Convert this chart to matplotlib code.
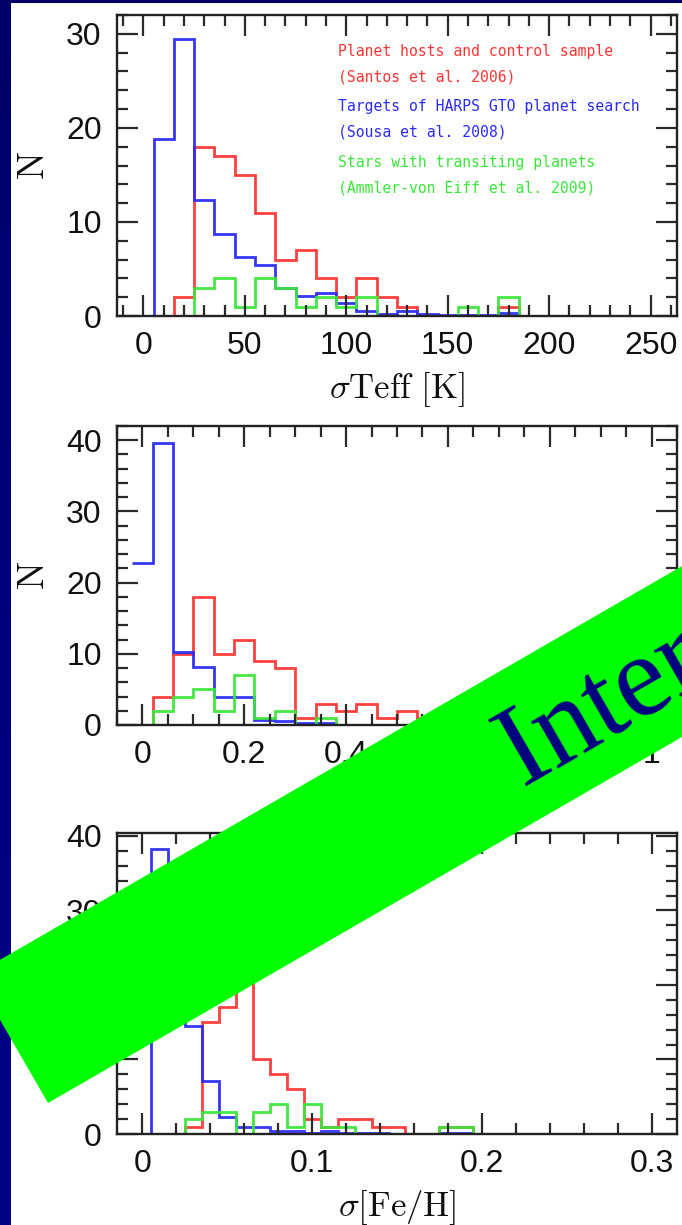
import numpy as np
import matplotlib
matplotlib.use("Agg")
import matplotlib.pyplot as plt
from matplotlib.patches import Polygon, Rectangle
from matplotlib.ticker import MultipleLocator, FixedLocator, FixedFormatter
from matplotlib.colors import LinearSegmentedColormap

plt.rcParams['mathtext.fontset'] = 'cm'

# ---------------- data ----------------
# panel 1: sigma Teff, bins of 10 K starting at -5
teff_start, teff_step = -5, 10
teff_red = [0, 0, 2, 18, 17, 15, 11, 6, 7, 4, 2, 4, 2, 1, 0, 0, 0, 0, 1, 0, 0, 0, 0, 0, 0, 0]
teff_blue = [0, 18.8, 29.5, 12.3, 8.7, 6.3, 5.4, 3.0, 2.1, 2.4, 1.4, 0.5, 0.2, 0.5, 0.2, 0.1, 0.1, 0.1, 0.3,
             0, 0, 0, 0, 0, 0, 0]
teff_green = [0, 0, 0, 3, 4, 1, 4, 3, 1, 2, 1, 2, 0, 0, 0, 0, 1, 0, 2, 0, 0, 0, 0, 0, 0, 0]

# panel 2: sigma logg, bins of 0.04 starting at -0.02
logg_start, logg_step = -0.02, 0.04
logg_red = [0, 4, 10, 18, 10, 12, 9, 8, 1, 3, 2, 3, 1, 2, 1, 0, 0, 0, 0, 0, 0, 0, 0, 0, 0, 0]
logg_blue = [22.7, 39.6, 10.3, 8.2, 3.9, 3.9, 0.7, 0.55, 0.35, 0.3, 0, 0, 0, 0, 0, 0, 0, 0, 0, 0, 0, 0, 0, 0, 0, 0]
logg_green = [0, 2, 4, 5, 2, 7, 1, 2, 0, 1, 0, 0, 0, 0, 0, 0, 0, 0, 0, 0, 0, 0, 0, 0, 0, 0]

# panel 3: sigma [Fe/H], bins of 0.01 starting at -0.005
feh_start, feh_step = -0.005, 0.01
feh_red = [0, 0, 0, 1, 15, 17, 27, 10, 8, 6, 2, 1, 2, 2, 1, 1, 0, 0, 1, 1,
           0, 0, 0, 0, 0, 0, 0, 0, 0, 0, 0]
feh_blue = [0, 38.2, 26, 14.5, 7.1, 2.3, 0.9, 0.9, 0.45, 0.45, 0.2, 0.45, 0.2, 0.1, 0.1, 0, 0, 0, 0.2, 0.2,
            0, 0, 0, 0, 0, 0, 0, 0, 0, 0, 0]
feh_green = [0, 0, 0, 2, 3, 3, 0, 3, 4, 1, 4, 1, 1, 0, 0, 0, 0, 0, 1, 1,
             0, 0, 0, 0, 0, 0, 0, 0, 0, 0, 0]

legend_lines = [
    ("Planet hosts and control sample", "red"),
    ("(Santos et al. 2006)", "red"),
    ("Targets of HARPS GTO planet search", "blue"),
    ("(Sousa et al. 2008)", "blue"),
    ("Stars with transiting planets", "green"),
    ("(Ammler-von Eiff et al. 2009)", "green"),
]

# ---------------- style ----------------
W, H = 682, 1225
COL = {"red": "#ff3535", "blue": "#2b2bf5", "green": "#3be63b"}
TICKFONT = "Liberation Sans"

fig = plt.figure(figsize=(W / 100, H / 100), dpi=100)

# background
bg = fig.add_axes([0, 0, 1, 1], zorder=0)
grad = np.linspace(0, 1, 256)[:, None]
cmap = LinearSegmentedColormap.from_list("bg", ["#000066", "#00007c", "#000086"])
bg.imshow(grad, cmap=cmap, extent=[0, W, H, 0], aspect="auto")
bg.add_patch(Rectangle((11, 3), W - 11, H - 3, facecolor="white", edgecolor="none"))
bg.set_xlim(0, W)
bg.set_ylim(H, 0)
bg.axis("off")


def px_rect(left, top, right, bottom):
    return [left / W, 1 - bottom / H, (right - left) / W, (bottom - top) / H]


panels = [
    dict(rect=px_rect(117, 15, 677, 316), start=teff_start, step=teff_step,
         series=[teff_red, teff_blue, teff_green], xlim=(-13, 263), ylim=(0, 32),
         xmaj=[0, 50, 100, 150, 200, 250], xlab=["0", "50", "100", "150", "200", "250"], xmin=10,
         xlabel=r"$\sigma\mathrm{Teff\ [K]}$"),
    dict(rect=px_rect(117, 426, 677, 725), start=logg_start, step=logg_step,
         series=[logg_red, logg_blue, logg_green], xlim=(-0.05, 1.05), ylim=(0, 42),
         xmaj=[0, 0.2, 0.4, 0.6, 0.8, 1.0], xlab=["0", "0.2", "0.4", "0.6", "0.8", "1"], xmin=0.05,
         xlabel=r"$\sigma\mathrm{logg}$"),
    dict(rect=px_rect(117, 833, 677, 1134), start=feh_start, step=feh_step,
         series=[feh_red, feh_blue, feh_green], xlim=(-0.015, 0.315), ylim=(0, 40.4),
         xmaj=[0, 0.1, 0.2, 0.3], xlab=["0", "0.1", "0.2", "0.3"], xmin=0.02,
         xlabel=r"$\sigma\mathrm{[Fe/H]}$"),
]

axes = []
for p in panels:
    ax = fig.add_axes(p["rect"], zorder=2)
    ax.set_facecolor("white")
    for vals, c in zip(p["series"], ["red", "blue", "green"]):
        edges = p["start"] + p["step"] * np.arange(len(vals) + 1)
        ax.stairs(vals, edges, baseline=None, color=COL[c], lw=2.0, alpha=0.95)
    ax.set_xlim(*p["xlim"])
    ax.set_ylim(*p["ylim"])
    ax.xaxis.set_major_locator(FixedLocator(p["xmaj"]))
    ax.xaxis.set_major_formatter(FixedFormatter(p["xlab"]))
    ax.xaxis.set_minor_locator(MultipleLocator(p["xmin"]))
    ax.yaxis.set_major_locator(MultipleLocator(10))
    ax.yaxis.set_minor_locator(MultipleLocator(2))
    ax.tick_params(which="both", direction="in", top=True, right=True, color="#2a2a2a", width=1.6)
    ax.tick_params(which="major", length=15, labelsize=23, pad=11)
    ax.tick_params(which="minor", length=8)
    for lab in ax.get_xticklabels() + ax.get_yticklabels():
        lab.set_fontfamily(TICKFONT)
        lab.set_color("#111111")
    for s in ax.spines.values():
        s.set_linewidth(1.7)
        s.set_color("#222222")
    ax.text(-0.148, 0.5, r"$\mathrm{N}$", transform=ax.transAxes, rotation=90,
            ha="center", va="center", fontsize=27, color="#111111")
    ax.text(0.5, -0.18, p["xlabel"], transform=ax.transAxes, ha="center", va="top",
            fontsize=25, color="#111111")
    axes.append(ax)

# legend-like annotations in the first panel
ax1 = axes[0]
ys = [51.7, 76.7, 107, 131.7, 163, 188]
for (txt, c), ypx in zip(legend_lines, ys):
    ax1.text((338 - 117) / 560, 1 - (ypx - 15) / 301, txt, transform=ax1.transAxes,
             ha="left", va="center", fontsize=10.6, family="DejaVu Sans Mono", color=COL[c])

# overlay banner
ov = fig.add_axes([0, 0, 1, 1], zorder=5)
ov.set_xlim(0, W)
ov.set_ylim(H, 0)
ov.axis("off")
ov.patch.set_alpha(0)
ang = np.deg2rad(30)
u = np.array([np.cos(ang), -np.sin(ang)])
n = np.array([-np.sin(ang), -np.cos(ang)])
A = np.array([48, 1103])
B = A + 148 * n
C = B + 1300 * u
D = A + 1300 * u
ov.add_patch(Polygon([A, B, C, D], closed=True, facecolor="#00ff00", edgecolor="none"))
ov.text(522, 786, "Internal", rotation=30, rotation_mode="anchor", ha="left", va="baseline",
        fontsize=84, family="Liberation Serif", color="#000080")

fig.savefig("out.png", dpi=100)
